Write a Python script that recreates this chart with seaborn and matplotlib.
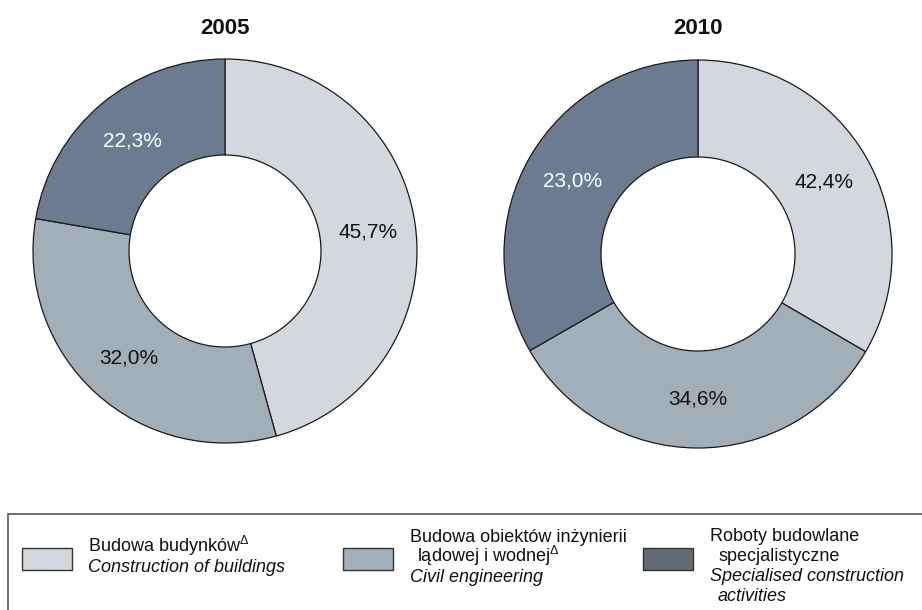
import matplotlib
matplotlib.use("Agg")
import matplotlib.pyplot as plt
from matplotlib.patches import Rectangle
from matplotlib import font_manager
import numpy as np
import seaborn as sns

# ---------------- data ----------------
years = ["2005", "2010"]
categories_pl = ["Budowa budynków", "Budowa obiektów inżynierii lądowej i wodnej", "Roboty budowlane specjalistyczne"]
categories_en = ["Construction of buildings", "Civil engineering", "Specialised construction activities"]
values_2005 = [45.7, 32.0, 22.3]
values_2010 = [42.4, 34.6, 23.0]
# wedge sizes of the 2010 ring as they are drawn in the reference picture
drawn_2005 = [45.7, 32.0, 22.3]
drawn_2010 = [33.4, 33.3, 33.3]

wedge_colors = ["#d3d8df", "#a2afb9", "#6c7b90"]
swatch_colors = ["#d3d8df", "#a3afb9", "#646b73"]
label_colors = ["#111111", "#111111", "#ffffff"]

# ---------------- style ----------------
sns.set_theme(style="white")
plt.rcParams["font.family"] = ["Liberation Sans", "DejaVu Sans"]
plt.rcParams["mathtext.fontset"] = "custom"
plt.rcParams["mathtext.rm"] = "Liberation Sans"
plt.rcParams["mathtext.it"] = "Liberation Sans:italic"

avail = {f.name for f in font_manager.fontManager.ttflist}
title_family = "Liberation Sans Narrow" if "Liberation Sans Narrow" in avail else "Liberation Sans"
title_size = 19.5 if title_family == "Liberation Sans Narrow" else 16

W, H = 922, 610
fig = plt.figure(figsize=(W / 100, H / 100), dpi=100)
fig.patch.set_facecolor("white")


def fx(x):
    return x / W


def fy(y):
    return 1 - y / H


def fmt(v):
    return f"{v:.1f}%".replace(".", ",")


donuts = [
    (years[0], drawn_2005, values_2005, (225, 251, 192)),
    (years[1], drawn_2010, values_2010, (698, 254, 194)),
]

for year, drawn, vals, (cx, cy, r) in donuts:
    ax = fig.add_axes([fx(cx - r), fy(cy + r), 2 * r / W, 2 * r / H])
    wedges, _ = ax.pie(drawn, colors=wedge_colors, startangle=90, counterclock=False,
                       radius=1.0, wedgeprops=dict(width=0.5, edgecolor="#1a1a1a", linewidth=0.9))
    ax.set_xlim(-1, 1)
    ax.set_ylim(-1, 1)
    ax.set_aspect("equal")
    ax.axis("off")
    for w, v, c in zip(wedges, vals, label_colors):
        ang = np.deg2rad((w.theta1 + w.theta2) / 2)
        rr = 0.75
        ax.text(rr * np.cos(ang), rr * np.sin(ang), fmt(v), ha="center", va="center",
                fontsize=15, color=c)
    fig.text(fx(cx), fy(29), year, ha="center", va="center", fontsize=title_size,
             fontweight="bold", family=title_family, color="#111111")

# ---------------- legend box ----------------
fig.patches.append(Rectangle((fx(8), fy(640)), fx(930) - fx(8), fy(514) - fy(640),
                             transform=fig.transFigure, facecolor="none",
                             edgecolor="#555555", linewidth=1.2))

swatch_x = [22, 343, 643]
for x0, col in zip(swatch_x, swatch_colors):
    fig.patches.append(Rectangle((fx(x0), fy(570)), 50 / W, 22 / H, transform=fig.transFigure,
                                 facecolor=col, edgecolor="#333333", linewidth=1.0))

fs = 13
# item 1
fig.text(fx(88), fy(552), categories_pl[0] + r"$^{\Delta}$", fontsize=fs, va="baseline", color="#111111")
fig.text(fx(88), fy(572), categories_en[0], fontsize=fs, style="italic", va="baseline", color="#111111")
# item 2
fig.text(fx(410), fy(542), "Budowa obiektów inżynierii", fontsize=fs, va="baseline", color="#111111")
fig.text(fx(417), fy(562), "lądowej i wodnej" + r"$^{\Delta}$", fontsize=fs, va="baseline", color="#111111")
fig.text(fx(410), fy(582), categories_en[1], fontsize=fs, style="italic", va="baseline", color="#111111")
# item 3
fig.text(fx(710), fy(541), "Roboty budowlane", fontsize=fs, va="baseline", color="#111111")
fig.text(fx(718), fy(561), "specjalistyczne", fontsize=fs, va="baseline", color="#111111")
fig.text(fx(710), fy(581), "Specialised construction", fontsize=fs, style="italic", va="baseline", color="#111111")
fig.text(fx(718), fy(601), "activities", fontsize=fs, style="italic", va="baseline", color="#111111")

fig.savefig("out.png", dpi=100, facecolor="white")
